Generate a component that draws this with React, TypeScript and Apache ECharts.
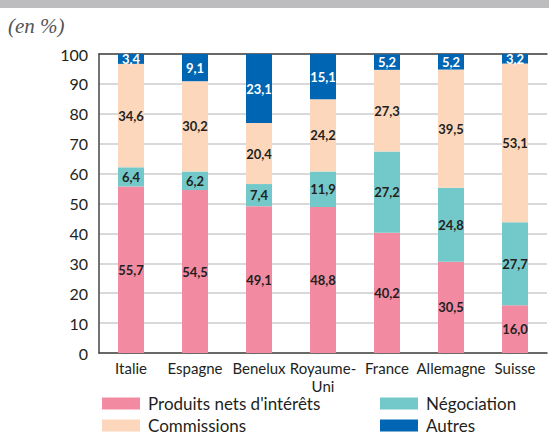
import React, { useEffect, useRef } from "react";
import * as echarts from "echarts";

const categories = ["Italie", "Espagne", "Benelux", "Royaume-\nUni", "France", "Allemagne", "Suisse"];
const produitsNets = [55.7, 54.5, 49.1, 48.8, 40.2, 30.5, 16.0];
const negociation = [6.4, 6.2, 7.4, 11.9, 27.2, 24.8, 27.7];
const commissions = [34.6, 30.2, 20.4, 24.2, 27.3, 39.5, 53.1];
const autres = [3.4, 9.1, 23.1, 15.1, 5.2, 5.2, 3.2];

const FONT = "Lato, 'Open Sans', sans-serif";
const DARK = "#231f20";

const fmt = (v: number) => v.toFixed(1).replace(".", ",");

function makeSeries(name: string, data: number[], color: string, labelColor: string) {
  return {
    name,
    type: "bar" as const,
    stack: "total",
    data,
    barWidth: 26,
    itemStyle: { color },
    label: {
      show: true,
      position: "inside" as const,
      formatter: (p: any) => fmt(p.value as number),
      color: labelColor,
      fontFamily: FONT,
      fontWeight: "bold" as const,
      fontSize: 13,
    },
  };
}

// one legend entry per block, laid out as a 2x2 grid
function legendItem(name: string, left: number, top: number) {
  return {
    data: [name],
    left,
    top,
    padding: 0,
    itemWidth: 38,
    itemHeight: 12,
    icon: "rect",
    selectedMode: false,
    textStyle: {
      fontFamily: FONT,
      fontSize: 17,
      lineHeight: 17,
      color: DARK,
      padding: [0, 0, 0, 3],
    },
  };
}

export default function App() {
  const ref = useRef<HTMLDivElement>(null);

  useEffect(() => {
    if (!ref.current) return;
    const chart = echarts.init(ref.current, undefined, { renderer: "svg" });
    chart.setOption({
      animation: false,
      backgroundColor: "#ffffff",
      title: {
        text: "(en %)",
        left: 3,
        top: 10,
        textStyle: {
          fontStyle: "italic",
          fontWeight: "normal",
          fontSize: 21,
          fontFamily: "'Liberation Serif', 'DejaVu Serif', serif",
          color: "#555555",
        },
      },
      grid: { left: 99, right: 2, top: 54, bottom: 82, containLabel: false },
      graphic: [
        {
          type: "rect",
          left: 0,
          top: 0,
          shape: { width: 549, height: 8 },
          style: { fill: "#bdbdbf" },
        },
      ],
      legend: [
        legendItem("Produits nets d'intérêts", 102, 395),
        legendItem("Commissions", 102, 417),
        legendItem("Négociation", 380, 395),
        legendItem("Autres", 380, 417),
      ],
      xAxis: [
        {
          type: "category",
          data: categories,
          axisLine: { show: true, lineStyle: { color: "#444444", width: 1.5 } },
          axisTick: { show: false },
          axisLabel: {
            interval: 0,
            margin: 6,
            fontFamily: FONT,
            fontSize: 15,
            color: DARK,
            lineHeight: 18,
          },
        },
        {
          type: "category",
          data: categories,
          position: "top",
          axisLine: { show: true, lineStyle: { color: "#444444", width: 1.5 } },
          axisTick: { show: false },
          axisLabel: { show: false },
        },
      ],
      yAxis: {
        type: "value",
        min: 0,
        max: 100,
        interval: 10,
        axisLine: { show: true, lineStyle: { color: "#444444", width: 1.5 } },
        axisTick: { show: false },
        axisLabel: { margin: 11, fontFamily: FONT, fontSize: 16, color: DARK },
        splitLine: { show: true, lineStyle: { color: "#cccccc", width: 1.5 } },
      },
      series: [
        makeSeries("Produits nets d'intérêts", produitsNets, "#f28ba2", DARK),
        makeSeries("Négociation", negociation, "#73c9c9", DARK),
        makeSeries("Commissions", commissions, "#fdd7bc", DARK),
        makeSeries("Autres", autres, "#0066b3", "#ffffff"),
      ],
    });
    return () => chart.dispose();
  }, []);

  return (
    <div
      ref={ref}
      style={{ position: "absolute", left: 0, top: 0, width: 549, height: 435 }}
    />
  );
}
